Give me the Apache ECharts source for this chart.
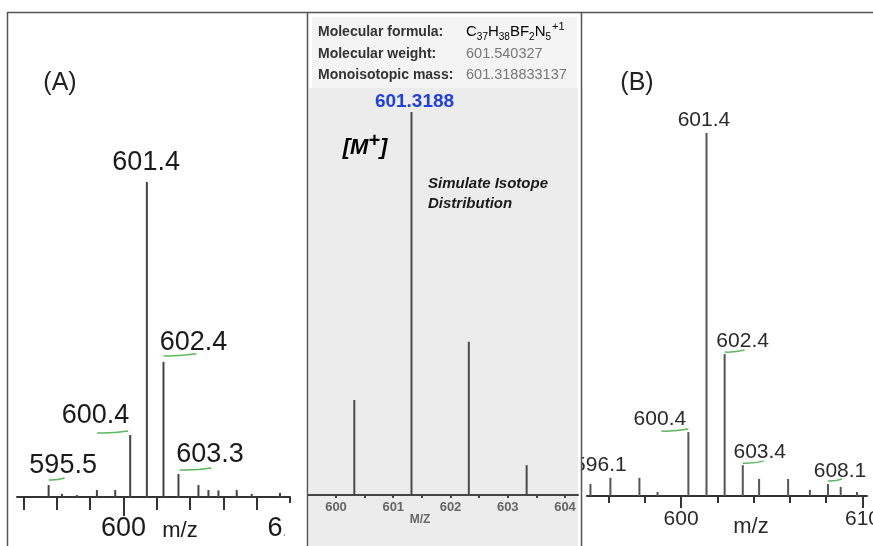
<!DOCTYPE html>
<html><head><meta charset="utf-8">
<script src="https://cdn.jsdelivr.net/npm/echarts@6/dist/echarts.min.js"></script>
<style>html,body{margin:0;padding:0;background:#fff}#c{width:873px;height:546px}</style>
</head><body><div id="c"></div>
<script>
// ---------- DATA ----------
// Panel (A): measured spectrum
const mzA = [595.5, 596.3, 597.2, 598.4, 599.5, 600.4, 601.4, 602.4, 603.3, 604.5, 605.1, 605.7, 606.8, 607.7, 609.4];
const intA = [3.8, 1.0, 0.6, 2.2, 2.2, 19.7, 100, 42.9, 7.3, 3.8, 2.2, 2.1, 2.2, 1.0, 1.3];
const labeledA = [595.5, 600.4, 601.4, 602.4, 603.3];
const ticksA = [594, 596, 598, 600, 602, 604, 606, 608, 610];
const tickLabelsA = [600, 610];
// Middle: simulated isotope distribution
const mzM = [600.32, 601.3188, 602.32, 603.33];
const intM = [24.8, 100, 40.0, 7.8];
const labeledM = [601.3188];
const ticksM = [600, 600.5, 601, 601.5, 602, 602.5, 603, 603.5, 604];
const tickLabelsM = [600, 601, 602, 603, 604];
const infoLabels = ['Molecular formula:', 'Molecular weight:', 'Monoisotopic mass:'];
const infoWeight = '601.540327';
const infoMono = '601.318833137';
// Panel (B): measured spectrum
const mzB = [595.0, 596.1, 597.7, 598.7, 600.4, 601.4, 602.4, 603.4, 604.3, 605.9, 607.1, 608.1, 608.8, 609.7];
const intB = [3.3, 5.0, 5.0, 1.1, 17.6, 100, 39.1, 8.5, 4.7, 4.7, 1.7, 3.3, 2.5, 1.1];
const labeledB = [596.1, 600.4, 601.4, 602.4, 603.4, 608.1];
const ticksB = [596, 598, 600, 602, 604, 606, 608, 610];
const tickLabelsB = [600, 610];

// ---------- STYLE / LAYOUT ----------
const FONT = "'Liberation Sans', Arial, sans-serif";
const layoutA = {
  '595.5': {dx: 14.5, ul: [0, 16, -6]},
  '600.4': {dx: -34.6, ul: [-33, -2, -3]},
  '601.4': {dx: -0.7},
  '602.4': {dx: 30, ul: [0, 33, -7]},
  '603.3': {dx: 31.6, ul: [1, 33, -5]}
};
const layoutB = {
  '596.1': {dx: -10},
  '600.4': {dx: -28.5, ul: [-27, 0, -2]},
  '601.4': {dx: -2.6},
  '602.4': {dx: 18, ul: [0, 20, -3]},
  '603.4': {dx: 17, ul: [0, 21, -3]},
  '608.1': {dx: 12, ul: [0, 14, -4]}
};
const layoutM = { '601.3188': {dx: 3} };

function stickSeries(axisIdx, mz, inten, labeled, o) {
  return {
    type: 'custom', xAxisIndex: axisIdx, yAxisIndex: o.yIdx, z: o.z, clip: false, silent: true,
    data: mz.map((m, i) => [m, inten[i]]),
    renderItem: function (params, api) {
      const x = api.value(0), y = api.value(1);
      const b = api.coord([x, 0]), t = api.coord([x, y]);
      const ch = [{type: 'line', shape: {x1: b[0], y1: b[1], x2: t[0], y2: t[1]},
        style: {stroke: o.color, lineWidth: o.width}}];
      if (labeled.indexOf(x) >= 0) {
        const key = x.toFixed(o.dec);
        const lay = o.layout[key] || {};
        ch.push({type: 'text', x: t[0] + (lay.dx || 0), y: t[1] - o.gap,
          style: {text: key, font: o.font, fill: o.textColor, align: 'center', verticalAlign: 'middle'}});
        if (lay.ul) {
          const yy = t[1] + lay.ul[2];
          ch.push({type: 'bezierCurve', shape: {x1: t[0] + lay.ul[0], y1: yy + 1, x2: t[0] + lay.ul[1], y2: yy - 1,
            cpx1: (2 * t[0] + lay.ul[0] + lay.ul[1]) / 2, cpy1: yy + 1.5},
            style: {stroke: '#5cb85c', lineWidth: 1.5, fill: null}});
        }
      }
      return {type: 'group', children: ch};
    }
  };
}

function xAx(grid, min, max, o) {
  return {
    type: 'value', gridIndex: grid, min: min, max: max, position: 'bottom', z: o.z || 0,
    splitLine: {show: false},
    axisLine: {show: o.line !== false, onZero: false, lineStyle: {color: o.color, width: o.lw || 2}},
    axisTick: {show: !!o.ticks, customValues: o.ticks || [], length: o.tl || 5, lineStyle: {color: o.color, width: o.tw || 2}},
    axisLabel: {show: !!o.labels, customValues: o.labels || [], margin: o.margin || 8, hideOverlap: false,
      fontFamily: FONT, fontSize: o.fs || 12, fontWeight: o.fw || 'normal', color: o.lc || '#222'}
  };
}

const chart = echarts.init(document.getElementById('c'), null, {renderer: 'canvas'});

const option = {
  animation: false,
  backgroundColor: '#ffffff',
  grid: [
    {left: 17, top: 182, width: 273, height: 315, containLabel: false, outerBoundsMode: 'none'},
    {left: 308, top: 112, width: 270, height: 383, containLabel: false, outerBoundsMode: 'none'},
    {left: 587, top: 133, width: 280, height: 363, containLabel: false, outerBoundsMode: 'none'}
  ],
  xAxis: [
    xAx(0, 593.6, 610, {color: '#333', ticks: ticksA, tl: 13}),
    xAx(0, 593.6, 610, {color: '#333', line: false, ticks: tickLabelsA, tl: 19, labels: tickLabelsA, fs: 27, margin: 18, lc: '#1a1a1a'}),
    xAx(1, 599.511, 604.227, {color: '#444', ticks: ticksM, tl: 3, labels: tickLabelsM, fs: 13, fw: 'bold', margin: 6, lc: '#666', z: 8}),
    xAx(2, 594.81, 610.25, {color: '#333', ticks: ticksB, tl: 7}),
    xAx(2, 594.81, 610.25, {color: '#333', line: false, ticks: tickLabelsB, tl: 12, labels: tickLabelsB, fs: 21, margin: 13, lc: '#2a2a2a'})
  ],
  yAxis: [
    {type: 'value', gridIndex: 0, min: 0, max: 100, show: false},
    {type: 'value', gridIndex: 1, min: 0, max: 100, show: false},
    {type: 'value', gridIndex: 2, min: 0, max: 100, show: false}
  ],
  series: [
    stickSeries(0, mzA, intA, labeledA, {yIdx: 0, z: 2, color: '#444', width: 2, dec: 1, layout: layoutA,
      gap: 19, font: '27px ' + FONT, textColor: '#1a1a1a'}),
    stickSeries(2, mzM, intM, labeledM, {yIdx: 1, z: 8, color: '#4a4a4a', width: 2, dec: 4, layout: layoutM,
      gap: 10, font: 'bold 19px ' + FONT, textColor: '#1f3fe0'}),
    stickSeries(3, mzB, intB, labeledB, {yIdx: 2, z: 2, color: '#555', width: 2, dec: 1, layout: layoutB,
      gap: 13, font: '21px ' + FONT, textColor: '#2a2a2a'})
  ],
  graphic: {elements: [
    // middle panel backgrounds (also crop overflowing labels of neighbours)
    {type: 'rect', z: 5, shape: {x: 308, y: 12, width: 273, height: 534}, style: {fill: '#ffffff'}},
    {type: 'rect', z: 5, shape: {x: 309, y: 88, width: 269, height: 458}, style: {fill: '#ececec'}},
    {type: 'rect', z: 5, shape: {x: 312, y: 17, width: 265, height: 71}, style: {fill: '#f4f4f4'}},
    {type: 'rect', z: 5, shape: {x: 285, y: 503, width: 22, height: 43}, style: {fill: '#ffffff'}},
    // frame
    {type: 'line', z: 20, shape: {x1: 7, y1: 12.5, x2: 873, y2: 12.5}, style: {stroke: '#555', lineWidth: 1.5}},
    {type: 'line', z: 20, shape: {x1: 7.5, y1: 12, x2: 7.5, y2: 546}, style: {stroke: '#555', lineWidth: 1.5}},
    {type: 'line', z: 20, shape: {x1: 307.5, y1: 12, x2: 307.5, y2: 546}, style: {stroke: '#555', lineWidth: 1.5}},
    {type: 'line', z: 20, shape: {x1: 581.5, y1: 12, x2: 581.5, y2: 546}, style: {stroke: '#555', lineWidth: 1.5}},
    // panel letters and axis names
    {type: 'text', z: 20, x: 60, y: 83, style: {text: '(A)', font: '25px ' + FONT, fill: '#222', align: 'center', verticalAlign: 'middle'}},
    {type: 'text', z: 20, x: 637, y: 83, style: {text: '(B)', font: '25px ' + FONT, fill: '#222', align: 'center', verticalAlign: 'middle'}},
    {type: 'text', z: 20, x: 180, y: 531, style: {text: 'm/z', font: '22px ' + FONT, fill: '#1a1a1a', align: 'center', verticalAlign: 'middle'}},
    {type: 'text', z: 20, x: 751, y: 527, style: {text: 'm/z', font: '22px ' + FONT, fill: '#2a2a2a', align: 'center', verticalAlign: 'middle'}},
    {type: 'text', z: 20, x: 420, y: 520, style: {text: 'M/Z', font: 'bold 12px ' + FONT, fill: '#666', align: 'center', verticalAlign: 'middle'}},
    // info box
    {type: 'text', z: 20, x: 318, y: 32, style: {text: infoLabels[0], font: 'bold 14px ' + FONT, fill: '#333', align: 'left', verticalAlign: 'middle'}},
    {type: 'text', z: 20, x: 318, y: 54, style: {text: infoLabels[1], font: 'bold 14px ' + FONT, fill: '#333', align: 'left', verticalAlign: 'middle'}},
    {type: 'text', z: 20, x: 318, y: 75, style: {text: infoLabels[2], font: 'bold 14px ' + FONT, fill: '#333', align: 'left', verticalAlign: 'middle'}},
    {type: 'text', z: 20, x: 466, y: 32, style: {
      text: '{n|C}{s|37}{n|H}{s|38}{n|BF}{s|2}{n|N}{s|5}{p|+1}', align: 'left', verticalAlign: 'middle',
      rich: {
        n: {fontFamily: FONT, fontSize: 15, color: '#777', lineHeight: 22, verticalAlign: 'middle'},
        s: {fontFamily: FONT, fontSize: 10, color: '#777', lineHeight: 22, verticalAlign: 'bottom', padding: [0, 0, 1, 0]},
        p: {fontFamily: FONT, fontSize: 11, color: '#777', lineHeight: 22, verticalAlign: 'top', padding: [0, 0, 0, 1]}
      }}},
    {type: 'text', z: 20, x: 466, y: 54, style: {text: infoWeight, font: '14.5px ' + FONT, fill: '#777', align: 'left', verticalAlign: 'middle'}},
    {type: 'text', z: 20, x: 466, y: 75, style: {text: infoMono, font: '14.5px ' + FONT, fill: '#777', align: 'left', verticalAlign: 'middle'}},
    // annotations in middle panel
    {type: 'text', z: 20, x: 365, y: 145, style: {
      text: '{a|[M}{b|+}{a|]}', align: 'center', verticalAlign: 'middle',
      rich: {
        a: {fontFamily: FONT, fontSize: 22, fontWeight: 'bold', fontStyle: 'italic', color: '#111', lineHeight: 28, verticalAlign: 'bottom'},
        b: {fontFamily: FONT, fontSize: 20, fontWeight: 'bold', fontStyle: 'italic', color: '#111', lineHeight: 28, verticalAlign: 'top'}
      }}},
    {type: 'text', z: 20, x: 428, y: 194, style: {text: 'Simulate Isotope\nDistribution', font: 'italic bold 15px ' + FONT,
      fill: '#1a1a1a', align: 'left', verticalAlign: 'middle', lineHeight: 20}}
  ]}
};
chart.setOption(option);
</script></body></html>
